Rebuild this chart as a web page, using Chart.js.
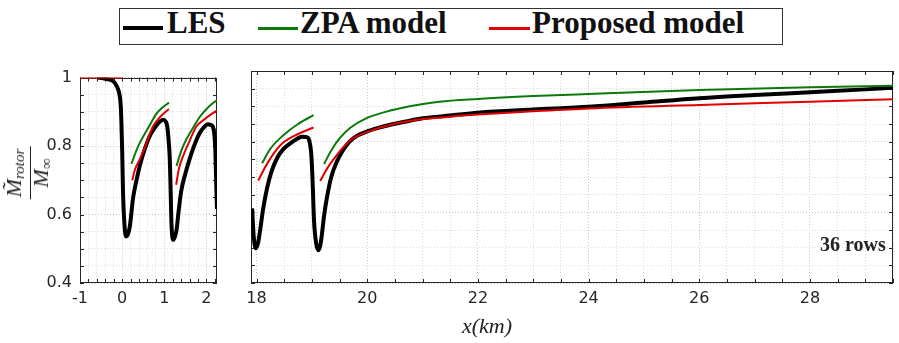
<!DOCTYPE html>
<html>
<head>
<meta charset="utf-8">
<script src="https://cdn.jsdelivr.net/npm/chart.js@4.4.1/dist/chart.umd.min.js"></script>
<style>
  body { margin: 0; width: 899px; height: 343px; background: #fff; position: relative; overflow: hidden; }
  .abs { position: absolute; white-space: nowrap; }
  #legend { left: 119px; top: 8px; width: 662px; height: 35px; border: 1px solid #333; }
  .lg-line { position: absolute; }
  .lg-text { position: absolute; font-family: "Liberation Serif", serif; font-weight: bold; font-size: 31px; line-height: 30px; color: #111; }
  .serif { font-family: "Liberation Serif", serif; color: #222; }
  #ylab { left: 30px; top: 173px; transform: translate(-50%, -50%) rotate(-90deg); }
  .frac { display: inline-flex; flex-direction: column; align-items: center; font-style: italic; font-size: 22px; line-height: 19px; }
  .frac .num { border-bottom: 1px solid #222; padding: 0 2px 1px 2px; }
  .frac sub { font-size: 15px; vertical-align: -3px; }
</style>
</head>
<body>
<div id="legend" class="abs">
  <div class="lg-line" style="left:3px; top:17px; width:40px; height:4px; background:#000;"></div>
  <div class="lg-text" style="left:47px; top:-1px;">LES</div>
  <div class="lg-line" style="left:138px; top:18px; width:40px; height:3px; background:#0b7a0b;"></div>
  <div class="lg-text" style="left:180px; top:-1px;">ZPA model</div>
  <div class="lg-line" style="left:369px; top:18px; width:41px; height:3px; background:#e00000;"></div>
  <div class="lg-text" style="left:412px; top:-1px;">Proposed model</div>
</div>
<canvas id="leftChart" class="abs" style="left:0; top:60px;"></canvas>
<canvas id="rightChart" class="abs" style="left:240px; top:60px;"></canvas>
<div id="ylab" class="abs serif"><span class="frac"><span class="num">M&#771;<sub>rotor</sub></span><span>M<sub>&#8734;</sub></span></span></div>
<div class="abs serif" style="left:820px; top:233px; font-size:20px; font-weight:bold;">36 rows</div>
<div class="abs serif" style="left:462px; top:313px; font-size:22px; font-style:italic;">x(km)</div>
<script>
// LES (null separates segments)
var lesX = [-0.59, -0.45, -0.3, -0.2, -0.13, -0.08, -0.05, -0.03, -0.015, 0.0, 0.02, 0.05, 0.09, 0.13, 0.18, 0.26, 0.34, 0.42, 0.52, 0.65, 0.77, 0.89, 0.97, 1.03, 1.07, 1.1, 1.13, 1.15, 1.17, 1.21, 1.25, 1.29, 1.34, 1.4, 1.5, 1.6, 1.72, 1.84, 1.94, 2.03, 2.1, 2.15, 2.19, 2.21, 2.23, 2.25,
  null,
  17.92, 17.95, 17.99, 18.03, 18.07, 18.12, 18.19, 18.27, 18.37, 18.48, 18.61, 18.72, 18.82, 18.9, 18.94, 18.97, 18.99, 19.01, 19.04, 19.08, 19.12, 19.15, 19.18, 19.22, 19.27, 19.35, 19.45, 19.56, 19.68, 19.82, 19.98, 20.2, 20.4, 20.7, 21.0, 21.5, 22.0, 23.0, 24.0, 25.0, 26.0, 27.0, 28.0, 29.0, 29.5];
var lesY = [1.0, 0.998, 0.994, 0.988, 0.975, 0.96, 0.94, 0.91, 0.857, 0.79, 0.668, 0.58, 0.536, 0.54, 0.564, 0.649, 0.70, 0.743, 0.785, 0.828, 0.853, 0.871, 0.877, 0.872, 0.857, 0.82, 0.762, 0.67, 0.573, 0.526, 0.535, 0.555, 0.61, 0.668, 0.72, 0.762, 0.805, 0.838, 0.855, 0.864, 0.862, 0.857, 0.83, 0.79, 0.70, 0.616,
  null,
  0.611, 0.53, 0.498, 0.515, 0.555, 0.61, 0.668, 0.715, 0.753, 0.778, 0.795, 0.807, 0.814, 0.813, 0.809, 0.79, 0.762, 0.70, 0.573, 0.51, 0.493, 0.505, 0.536, 0.59, 0.64, 0.70, 0.743, 0.775, 0.80, 0.817, 0.828, 0.839, 0.847, 0.857, 0.866, 0.874, 0.882, 0.891, 0.899, 0.911, 0.923, 0.932, 0.94, 0.948, 0.953];

// ZPA model
var zpaX = [0.22, 0.3, 0.4, 0.5, 0.65, 0.81, 0.95, 1.11,
  null, 1.29, 1.4, 1.52, 1.7, 1.84, 2.0, 2.12, 2.25,
  null, 18.1, 18.25, 18.49, 18.75, 19.03,
  null, 19.22, 19.35, 19.5, 19.7, 19.98, 20.3, 20.58, 21.3, 22.0, 23.0, 24.0, 26.0, 28.0, 29.5];
var zpaY = [0.748, 0.775, 0.805, 0.828, 0.86, 0.894, 0.912, 0.927,
  null, 0.742, 0.785, 0.819, 0.857, 0.885, 0.908, 0.922, 0.934,
  null, 0.739, 0.78, 0.819, 0.85, 0.875,
  null, 0.737, 0.775, 0.809, 0.84, 0.866, 0.883, 0.894, 0.913, 0.921, 0.929, 0.935, 0.946, 0.954, 0.958];

// Proposed model
var propX = [-1, 0.02,
  null, 0.24, 0.3, 0.42, 0.55, 0.73, 0.9, 1.11,
  null, 1.28, 1.35, 1.45, 1.6, 1.76, 1.95, 2.1, 2.25,
  null, 18.03, 18.2, 18.43, 18.7, 19.03,
  null, 19.15, 19.3, 19.45, 19.6, 19.74, 20.1, 20.7, 21.3, 22.0, 23.0, 24.0, 26.0, 28.0, 29.5];
var propY = [1.0, 1.0,
  null, 0.70, 0.73, 0.762, 0.80, 0.857, 0.885, 0.908,
  null, 0.687, 0.735, 0.772, 0.815, 0.857, 0.878, 0.892, 0.904,
  null, 0.69, 0.74, 0.79, 0.818, 0.84,
  null, 0.689, 0.73, 0.762, 0.79, 0.809, 0.833, 0.857, 0.868, 0.877, 0.886, 0.894, 0.904, 0.913, 0.92];

// labelled ticks
var yTickLabels = [0.4, 0.6, 0.8, 1];
var leftXTickLabels = [-1, 0, 1, 2];
var rightXTickLabels = [18, 20, 22, 24, 26, 28];

function toPoints(xs, ys) {
  return xs.map(function (x, i) {
    return { x: x === null ? xs[i - 1] : x, y: ys[i] };
  });
}

function isLabelled(v, list) {
  return list.some(function (t) { return Math.abs(t - v) < 1e-6; });
}

function stepTicks(min, max, step) {
  var out = [];
  var v = Math.ceil(min / step - 1e-9) * step;
  for (; v <= max + 1e-9; v += step) {
    out.push({ value: Math.round(v * 1000) / 1000 });
  }
  return out;
}

var boxPlugin = {
  id: "box",
  beforeDatasetsDraw: function (chart) {
    var ctx = chart.ctx, a = chart.chartArea;
    var sx = chart.scales.x, sy = chart.scales.y;
    ctx.save();
    ctx.strokeStyle = "#262626";
    ctx.lineWidth = 1;
    ctx.beginPath();
    sx.ticks.forEach(function (t) {
      var px = Math.round(sx.getPixelForValue(t.value)) + 0.5;
      ctx.moveTo(px, a.bottom); ctx.lineTo(px, a.bottom - 4);
      ctx.moveTo(px, a.top); ctx.lineTo(px, a.top + 4);
    });
    sy.ticks.forEach(function (t) {
      var py = Math.round(sy.getPixelForValue(t.value)) + 0.5;
      ctx.moveTo(a.left, py); ctx.lineTo(a.left + 4, py);
      ctx.moveTo(a.right, py); ctx.lineTo(a.right - 4, py);
    });
    ctx.stroke();
    ctx.strokeRect(Math.round(a.left) + 0.5, Math.round(a.top) + 0.5, Math.round(a.width) - 1, Math.round(a.height) - 1);
    ctx.restore();
  }
};

function makeChart(id, width, xMin, xMax, xStep, xLabels, yAxisWidth, showYLabels, padRight) {
  var canvas = document.getElementById(id);
  canvas.width = width;
  canvas.height = 255;
  canvas.style.width = width + "px";
  canvas.style.height = "255px";

  var gridColor = function (labels) {
    return function (c) {
      return c.tick && isLabelled(c.tick.value, labels) ? "#c8c8c8" : "#dcdcdc";
    };
  };

  return new Chart(canvas.getContext("2d"), {
    type: "line",
    data: {
      datasets: [
        { label: "Proposed model", data: toPoints(propX, propY), borderColor: "#e00000", borderWidth: 2, order: 1 },
        { label: "ZPA model", data: toPoints(zpaX, zpaY), borderColor: "#0b7a0b", borderWidth: 2, order: 2 },
        { label: "LES", data: toPoints(lesX, lesY), borderColor: "#000000", borderWidth: 4, order: 3 }
      ]
    },
    options: {
      responsive: false,
      animation: false,
      spanGaps: false,
      layout: { padding: { top: 11, right: padRight, left: 0, bottom: 0 } },
      elements: {
        point: { radius: 0, hoverRadius: 0 },
        line: { cubicInterpolationMode: "monotone", borderCapStyle: "butt" }
      },
      plugins: { legend: { display: false }, tooltip: { enabled: false } },
      scales: {
        x: {
          type: "linear",
          min: xMin,
          max: xMax,
          bounds: "data",
          afterBuildTicks: function (scale) { scale.ticks = stepTicks(xMin, xMax, xStep); },
          afterFit: function (scale) { scale.height = 32; },
          grid: { color: gridColor(xLabels), lineWidth: 1, drawTicks: false },
          border: { display: false, dash: [1, 2] },
          ticks: {
            autoSkip: false,
            maxRotation: 0,
            padding: 6,
            color: "#262626",
            font: { family: "DejaVu Sans", size: 16 },
            callback: function (v) { return isLabelled(v, xLabels) ? String(Math.round(v)) : ""; }
          }
        },
        y: {
          type: "linear",
          min: 0.4,
          max: 1,
          bounds: "data",
          afterBuildTicks: function (scale) { scale.ticks = stepTicks(0.4, 1, 0.05); },
          afterFit: function (scale) { scale.width = yAxisWidth; },
          grid: { color: gridColor(yTickLabels), lineWidth: 1, drawTicks: false },
          border: { display: false, dash: [1, 2] },
          ticks: {
            display: showYLabels,
            autoSkip: false,
            padding: 8,
            color: "#262626",
            font: { family: "DejaVu Sans", size: 16 },
            callback: function (v) { return isLabelled(v, yTickLabels) ? String(Math.round(v * 10) / 10) : ""; }
          }
        }
      }
    },
    plugins: [boxPlugin]
  });
}

makeChart("leftChart", 230, -1, 2.25, 0.2, leftXTickLabels, 80, true, 13);
makeChart("rightChart", 659, 17.9, 29.5, 0.5, rightXTickLabels, 11, false, 1);
</script>
</body>
</html>
